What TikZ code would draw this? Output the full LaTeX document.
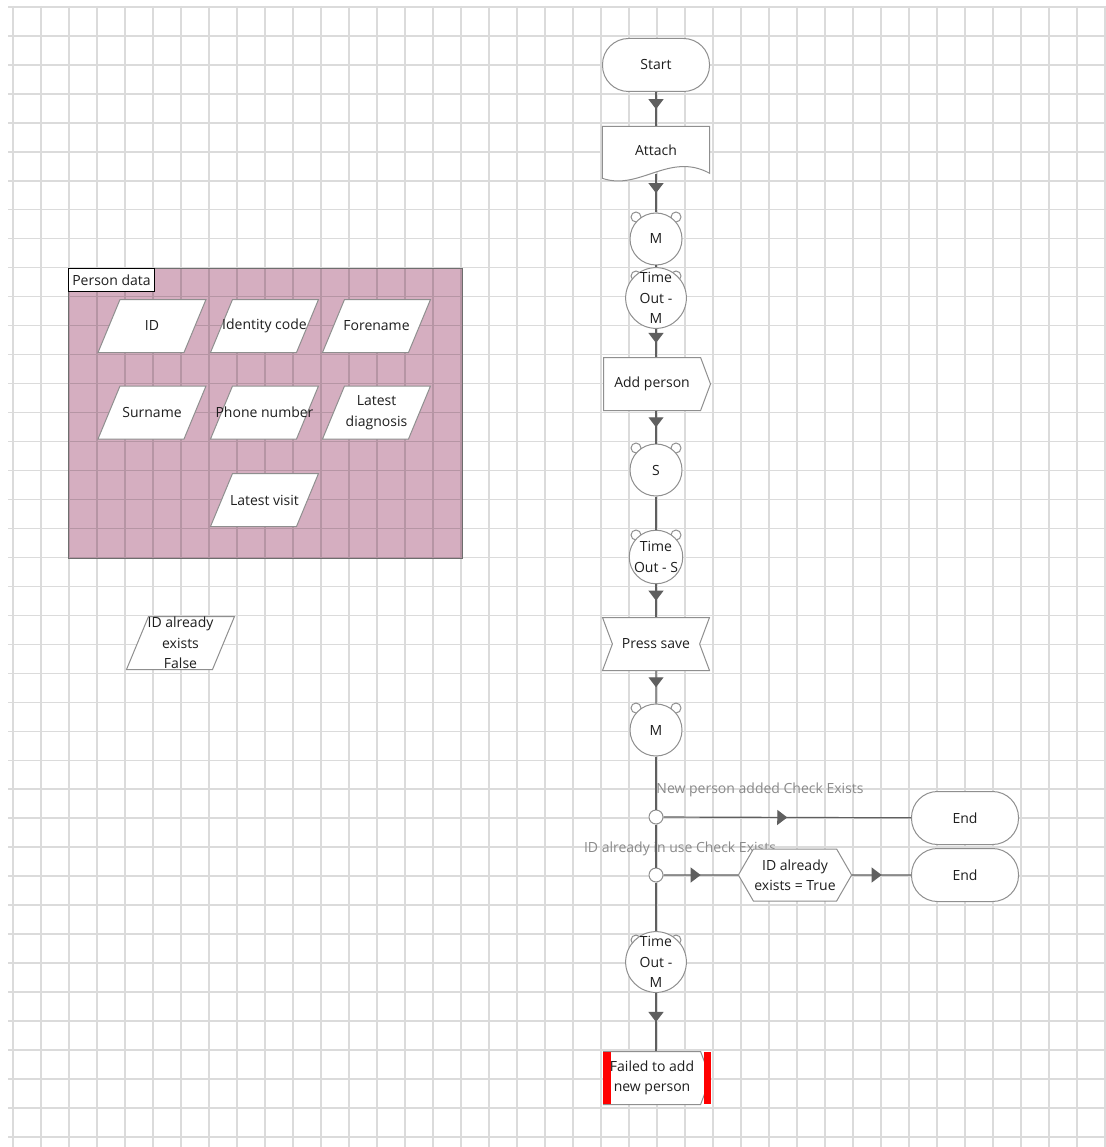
\documentclass[tikz,border=0pt]{standalone}
\usepackage{fontspec}
\setmainfont{Open Sans}
\usetikzlibrary{shapes.geometric,shapes.symbols,decorations.markings,calc,arrows.meta}
\pgfdeclarelayer{back}
\pgfdeclarelayer{mid}
\pgfsetlayers{back,mid,main}

\definecolor{txt}{HTML}{1E1E1E}
\definecolor{shapeline}{HTML}{8F8F8F}
\definecolor{linecol}{HTML}{5F5F5F}
\definecolor{lblgray}{HTML}{8A8A8A}
\definecolor{mauve}{HTML}{D5AEC0}
\definecolor{frame}{HTML}{6E6E6E}

\begin{document}
\begin{tikzpicture}[
        x=1pt, y=-1pt,
        font=\fontsize{14}{20.5}\selectfont,
        every node/.style={text=txt, align=center},
        gridline/.style={draw=black, draw opacity=0.14, line width=1.4pt},
        terminal/.style={rectangle, rounded corners=26pt, draw=shapeline, fill=white, line width=1pt, minimum width=107pt, minimum height=53pt},
        sendbox/.style={signal, signal to=east, signal pointer angle=139, draw=shapeline, fill=white, line width=1pt, minimum width=107pt, minimum height=53pt, inner sep=1pt, anchor=west},
        recvbox/.style={signal, signal to=nowhere, signal from=west and east, signal pointer angle=139, draw=shapeline, fill=white, line width=1pt, minimum width=107pt, minimum height=53pt},
        hexbox/.style={signal, signal to=west and east, signal pointer angle=120, draw=shapeline, fill=white, line width=1pt, minimum width=107pt, minimum height=52pt, inner sep=1pt},
        timer/.style={circle, draw=shapeline, fill=white, line width=1pt, minimum size=52pt, inner sep=0pt},
        ear/.style={draw=shapeline, fill=white, line width=1pt},
        joint/.style={circle, draw=shapeline, fill=white, line width=1pt, minimum size=14pt, inner sep=0pt},
        datum/.style={rectangle, minimum width=86pt, minimum height=53pt, inner sep=0pt},
        flow/.style={draw=linecol, line width=1.2pt},
        midarrow/.style={flow, postaction={decorate}, decoration={markings, mark=at position 0.5 with {\arrow[linecol]{Triangle[width=15pt,length=10pt]}}}},
        lbl/.style={text=lblgray}
      ]
        \useasboundingbox (0,0) rectangle (1105,1147);

        % background grid and the data area
        \begin{pgfonlayer}{back}
          \fill[white] (0,0) rectangle (1105,1147);
          \fill[mauve] (68,268) rectangle (462,558);
          \draw[gridline] \foreach \i in {0,...,39} {(13+28*\i,6) -- (13+28*\i,1147)}
                          \foreach \j in {0,...,39} {(8,7+28.97*\j) -- (1105,7+28.97*\j)};
        \end{pgfonlayer}

        % data container
        \node[draw=frame, line width=1pt, minimum width=394pt, minimum height=290pt, anchor=north west, inner sep=0pt] (persondata) at (68,268) {};
        \node[draw=black, fill=white, line width=1pt, anchor=north west, inner sep=0pt, minimum width=86pt, minimum height=23pt] (persontitle) at (persondata.north west) {Person data};

        \node[datum] (id) at (152,326) {ID};
        \node[datum] (idcode) at (264.5,326) {Identity code};
        \node[datum] (forename) at (376.5,326) {Forename};
        \node[datum] (surname) at (152,412.5) {Surname};
        \node[datum] (phone) at (264.5,412.5) {Phone number};
        \node[datum] (diagnosis) at (376.5,412.5) {Latest\\diagnosis};
        \node[datum] (visit) at (264.5,500) {Latest visit};

        \node[datum] (idfalse) at (180.5,643) {ID already\\exists\\False};

        % main flow
        \node[terminal] (start) at (656,65) {Start};
        \node[minimum width=107pt, minimum height=47pt, inner sep=0pt] (attach) at (656,150) {Attach};
        \node[timer] (m1) at (656,239) {M};
        \node[timer] (tom1) at (656,298) {Time\\Out -\\M};
        \node[sendbox] (addperson) at (603,384) {Add person};
        \node[timer] (s1) at (656,470) {S};
        \node[timer] (tos1) at (656,557) {Time\\Out - S};
        \node[recvbox] (presssave) at (656,644) {Press save};
        \node[timer] (m2) at (656,730) {M};
        \node[joint] (c1) at (656,817) {};
        \node[joint] (c2) at (656,875) {};
        \node[timer] (tom2) at (656,962) {Time\\Out -\\M};
        \node[sendbox] (failed) at (603,1078) {Failed to add\\new person};

        \node[terminal] (end1) at (965,818) {End};
        \node[lbl] (lbl1) at ($(c1)+(104,-27)$) {New person added Check Exists};
        \node[lbl] (lbl2) at ($(c2)+(24,-26)$) {ID already in use Check Exists};
        \node[hexbox] (idtrue) at (795,875) {ID already\\exists = True};
        \node[terminal] (end2) at (965,875) {End};

        % red bars on the failed state
        \fill[red] ($(failed.west)+(0,-26)$) rectangle ($(failed.west)+(8,26)$);
        \fill[red] ($(failed.east)+(-7,-26)$) rectangle ($(failed.east)+(0,26)$);

        % outlines drawn behind the texts
        \begin{pgfonlayer}{mid}
          \draw[ear] (attach.north west) -- ($(attach.north west)+(0,52)$)
            .. controls ($(attach.north west)+(37,65)$) and ($(attach.north west)+(67,25)$) .. ($(attach.north east)+(0,47)$)
            -- (attach.north east) -- cycle;
          \foreach \t in {m1,tom1,s1,tos1,m2,tom2} {
            \draw[ear] ($(\t.center)+(-20,-22)$) circle[radius=5pt];
            \draw[ear] ($(\t.center)+(20,-22)$) circle[radius=5pt];
          }
          \foreach \d in {id,idcode,forename,surname,phone,diagnosis,visit,idfalse} {
            \draw[ear] ($(\d.center)+(-54,26.5)$) -- ($(\d.center)+(32,26.5)$)
              -- ($(\d.center)+(54,-26.5)$) -- ($(\d.center)+(-32,-26.5)$) -- cycle;
          }
        \end{pgfonlayer}

        % connectors
        \draw[midarrow] (start) -- (attach);
        \draw[midarrow] (attach) -- (m1);
        \draw[flow] (m1) -- (tom1);
        \draw[midarrow] (tom1) -- (tom1 |- addperson.north);
        \draw[midarrow] (addperson.south -| s1) -- (s1);
        \draw[flow] (s1) -- (tos1);
        \draw[midarrow] (tos1) -- (presssave);
        \draw[midarrow] (presssave) -- (m2);
        \draw[flow] (m2) -- (c1);
        \draw[flow] (c1) -- (c2);
        \draw[flow] (c2) -- (tom2);
        \draw[midarrow] (tom2) -- (tom2 |- failed.north);

        \draw[midarrow] (c1) -- (end1);
        \draw[midarrow] (c2) -- (idtrue);
        \draw[midarrow] (idtrue) -- (end2);
      \end{tikzpicture}
\end{document}
